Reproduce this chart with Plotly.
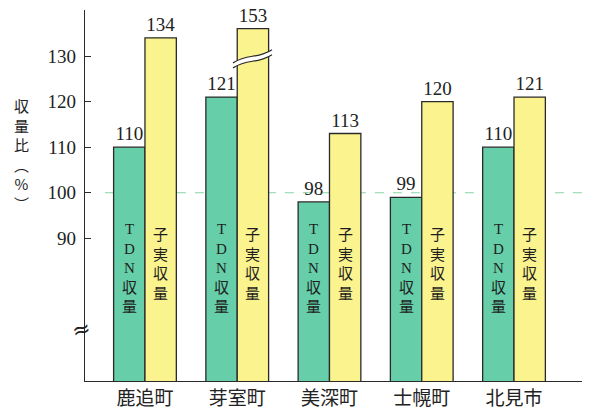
import plotly.graph_objects as go

# ---- data ----
towns = ["鹿追町", "芽室町", "美深町", "士幌町", "北見市"]
tdn_values = [110, 121, 98, 99, 110]
grain_values = [134, 153, 113, 120, 121]
tdn_label = ["T", "D", "N", "収", "量"]
grain_label = ["子", "実", "収", "量"]
y_ticks = [90, 100, 110, 120, 130]
reference_value = 100
break_cap = 136          # bars above this value are drawn cut (with break mark)
y_title_chars = ["収", "量", "比", "︵", "%", "︶"]

# ---- style ----
GREEN = "#66cfa9"
YELLOW = "#fbf48e"
EDGE = "#2a2a2a"
SERIF = "Liberation Serif"
SERIF_CJK = "Liberation Serif, Noto Sans CJK JP"
CJK = "Noto Sans CJK JP"
Y_MIN, Y_MAX = 58.7, 140.1
bar_w = 0.34


def vtext(chars):
    return "<br>".join(chars)


x = list(range(len(towns)))
grain_drawn = [min(v, break_cap) for v in grain_values]

fig = go.Figure()
fig.add_bar(
    x=x, y=tdn_values, width=bar_w, offset=-bar_w,
    marker=dict(color=GREEN, line=dict(color=EDGE, width=1.3)),
    text=[str(v) for v in tdn_values], textposition="outside",
    textfont=dict(family=SERIF, size=19, color="#222"),
    cliponaxis=False, constraintext="none", hoverinfo="skip",
)
fig.add_bar(
    x=x, y=grain_drawn, width=bar_w, offset=0,
    marker=dict(color=YELLOW, line=dict(color=EDGE, width=1.3)),
    text=[str(v) for v in grain_values], textposition="outside",
    textfont=dict(family=SERIF, size=19, color="#222"),
    cliponaxis=False, constraintext="none", hoverinfo="skip",
)

annotations = []
for i in x:
    annotations.append(dict(
        x=i - bar_w / 2, y=94.3, text=vtext(tdn_label),
        showarrow=False, xanchor="center", yanchor="top",
        font=dict(family=SERIF_CJK, size=15, color="#1e1e1e")))
    annotations.append(dict(
        x=i + bar_w / 2, y=93.9, text=vtext(grain_label),
        showarrow=False, xanchor="center", yanchor="top",
        font=dict(family=CJK, size=15, color="#1e1e1e")))

# y-axis title (vertical)
annotations.append(dict(
    xref="paper", x=-0.127, y=122.0, text=vtext(y_title_chars),
    showarrow=False, xanchor="center", yanchor="top",
    font=dict(family=CJK, size=15, color="#222")))

# axis break mark on y axis
annotations.append(dict(
    xref="paper", x=-0.008, y=69.9, text="≈", showarrow=False,
    xanchor="center", yanchor="middle", textangle=-15,
    font=dict(family="DejaVu Sans", size=22, color="#222")))

shapes = [dict(
    type="line", xref="paper", x0=0.04, x1=1, y0=reference_value, y1=reference_value,
    line=dict(color="#86d3a6", width=1.2, dash="dash"), layer="below")]

# break mark on truncated bars
for i, v in enumerate(grain_values):
    if v > break_cap:
        xl = i - 0.046
        xr = i + bar_w + 0.037
        dx = xr - xl
        yl, yr, gap, amp = 127.4, 130.3, 1.1, 1.6

        def curve(y0, y1):
            return (f"C {xl + 0.4*dx},{y0 + amp + (y1-y0)*0.2} "
                    f"{xl + 0.6*dx},{y1 - amp - (y1-y0)*0.2} {xr},{y1}")
        lower = f"M {xl},{yl} " + curve(yl, yr)
        upper = f"M {xl},{yl+gap} " + curve(yl + gap, yr + gap)
        back = (f"C {xl + 0.6*dx},{yr + gap - amp - (yr-yl)*0.2} "
                f"{xl + 0.4*dx},{yl + gap + amp + (yr-yl)*0.2} {xl},{yl+gap}")
        fill_path = lower + f" L {xr},{yr+gap} " + back + " Z"
        shapes.append(dict(type="path", path=fill_path, fillcolor="white",
                           line=dict(width=0), layer="above"))
        shapes.append(dict(type="path", path=lower,
                           line=dict(color=EDGE, width=1.2), layer="above"))
        shapes.append(dict(type="path", path=upper,
                           line=dict(color=EDGE, width=1.2), layer="above"))

fig.update_layout(
    width=589, height=417,
    margin=dict(l=85, r=7, t=10, b=29),
    paper_bgcolor="white", plot_bgcolor="white",
    barmode="overlay", showlegend=False,
    annotations=annotations, shapes=shapes,
    xaxis=dict(
        range=[-0.65, 4.737], tickvals=x, ticktext=towns,
        showline=True, linecolor=EDGE, linewidth=1.3, ticks="",
        showgrid=False, zeroline=False,
        tickfont=dict(family=CJK, size=19, color="#222")),
    yaxis=dict(
        range=[Y_MIN, Y_MAX], tickvals=y_ticks,
        showline=True, linecolor=EDGE, linewidth=1.3,
        ticks="inside", ticklen=6, tickcolor=EDGE,
        showgrid=False, zeroline=False, ticklabelstandoff=4,
        tickfont=dict(family=SERIF, size=19, color="#222")),
)

fig.write_html("out.html")
